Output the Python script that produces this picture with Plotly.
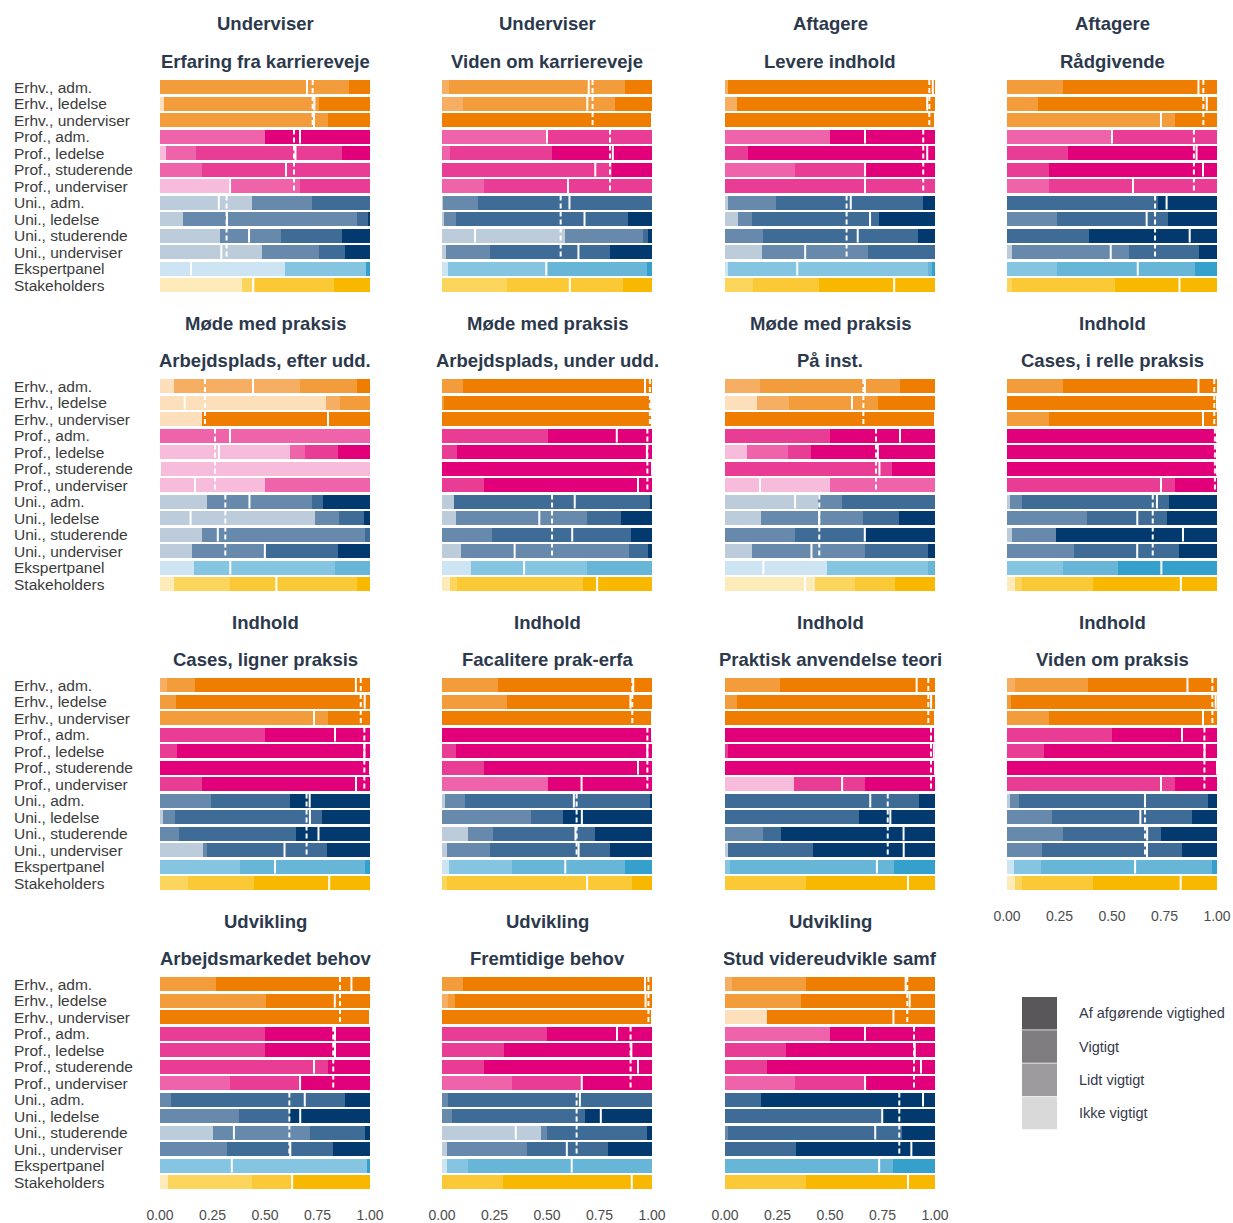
import plotly.graph_objects as go

# ---- categories -------------------------------------------------------------
groups = ["Erhv., adm.", "Erhv., ledelse", "Erhv., underviser",
          "Prof., adm.", "Prof., ledelse", "Prof., studerende", "Prof., underviser",
          "Uni., adm.", "Uni., ledelse", "Uni., studerende", "Uni., underviser",
          "Ekspertpanel", "Stakeholders"]
group_family = ["Erhv"] * 3 + ["Prof"] * 4 + ["Uni"] * 4 + ["Ekspert", "Stake"]
levels = ["Ikke vigtigt", "Lidt vigtigt", "Vigtigt", "Af afgørende vigtighed"]

themes = ["Underviser", "Underviser", "Aftagere", "Aftagere",
          "Møde med praksis", "Møde med praksis", "Møde med praksis", "Indhold",
          "Indhold", "Indhold", "Indhold", "Indhold",
          "Udvikling", "Udvikling", "Udvikling"]
items = ["Erfaring fra karriereveje", "Viden om karriereveje", "Levere indhold", "Rådgivende",
         "Arbejdsplads, efter udd.", "Arbejdsplads, under udd.", "På inst.", "Cases, i relle praksis",
         "Cases, ligner praksis", "Facalitere prak-erfa", "Praktisk anvendelse teori", "Viden om praksis",
         "Arbejdsmarkedet behov", "Fremtidige behov", "Stud videreudvikle samf"]

# ---- shares per group: [Ikke, Lidt, Vigtigt, Af afgørende] --------------------
erfaring_karriere = [
    [0, 0, 0.90, 0.10], [0.02, 0, 0.735, 0.245], [0, 0, 0.80, 0.20],
    [0, 0.50, 0, 0.50], [0.03, 0.14, 0.695, 0.135], [0, 0.20, 0.80, 0], [0.333, 0.333, 0.334, 0],
    [0.437, 0.286, 0.277, 0], [0.111, 0.829, 0.052, 0.008], [0.286, 0.29, 0.29, 0.134], [0.484, 0.275, 0.122, 0.119],
    [0.595, 0.386, 0, 0.019], [0.39, 0.06, 0.38, 0.17]]
viden_karriere = [
    [0, 0.033, 0.838, 0.129], [0, 0.10, 0.724, 0.176], [0, 0, 0, 1],
    [0, 0.50, 0.50, 0], [0, 0.038, 0.484, 0.478], [0, 0, 0.81, 0.19], [0, 0.20, 0.80, 0],
    [0.006, 0.167, 0.827, 0], [0.01, 0.057, 0.82, 0.113], [0.586, 0.373, 0.024, 0.017], [0.02, 0.21, 0.571, 0.199],
    [0.03, 0.476, 0.469, 0.025], [0, 0.311, 0.552, 0.137]]
levere_indhold = [
    [0, 0.016, 0, 0.984], [0, 0.056, 0, 0.944], [0, 0, 0, 1],
    [0, 0.5, 0, 0.5], [0, 0, 0.111, 0.889], [0, 0.333, 0.333, 0.334], [0, 0, 1, 0],
    [0.016, 0.227, 0.701, 0.056], [0.063, 0.067, 0.605, 0.265], [0, 0.183, 0.738, 0.079], [0.175, 0.505, 0.32, 0],
    [0.016, 0.952, 0.016, 0.016], [0, 0.135, 0.313, 0.552]]
raadgivende = [
    [0, 0, 0.265, 0.735], [0, 0, 0.146, 0.854], [0, 0, 0.80, 0.20],
    [0, 0.5, 0.5, 0], [0, 0, 0.292, 0.708], [0, 0, 0.20, 0.80], [0, 0.20, 0.80, 0],
    [0, 0, 0.72, 0.28], [0, 0.237, 0.531, 0.232], [0, 0, 0.39, 0.61], [0.022, 0.56, 0.332, 0.086],
    [0, 0.237, 0.658, 0.105], [0, 0.022, 0.492, 0.486]]
arbejdsplads_efter = [
    [0.067, 0.60, 0.27, 0.063], [0.79, 0.067, 0.143, 0], [0.20, 0, 0, 0.80],
    [0, 1, 0, 0], [0.619, 0.071, 0.159, 0.151], [1, 0, 0, 0], [0.5, 0.5, 0, 0],
    [0.222, 0.50, 0.056, 0.222], [0.738, 0.116, 0.117, 0.029], [0.198, 0.778, 0.024, 0], [0.151, 0.354, 0.341, 0.154],
    [0.163, 0.67, 0.167, 0], [0.067, 0.267, 0.603, 0.063]]
arbejdsplads_under = [
    [0, 0, 0.10, 0.90], [0, 0, 0.01, 0.99], [0, 0, 0, 1],
    [0, 0, 0.503, 0.497], [0, 0, 0.073, 0.927], [0, 0, 0, 1], [0, 0, 0.20, 0.80],
    [0.057, 0, 0.933, 0.01], [0.067, 0.625, 0.159, 0.149], [0, 0.24, 0.66, 0.10], [0.089, 0.803, 0.089, 0.019],
    [0.138, 0.551, 0.311, 0], [0.038, 0.035, 0.60, 0.327]]
paa_inst = [
    [0, 0.167, 0.667, 0.166], [0.151, 0.154, 0.425, 0.27], [0, 0, 0, 1],
    [0, 0, 0.5, 0.5], [0.106, 0.195, 0.108, 0.591], [0, 0, 0.794, 0.206], [0.5, 0.5, 0, 0],
    [0.444, 0.111, 0.445, 0], [0.17, 0.486, 0.173, 0.171], [0, 0.333, 0.337, 0.33], [0.13, 0.537, 0.301, 0.032],
    [0.484, 0.484, 0.032, 0], [0.429, 0.19, 0.19, 0.191]]
cases_relle = [
    [0, 0, 0.265, 0.735], [0, 0, 0, 1], [0, 0, 0.20, 0.80],
    [0, 0, 0, 1], [0, 0, 0, 1], [0, 0, 0, 1], [0, 0, 0.80, 0.20],
    [0.014, 0.059, 0.698, 0.229], [0, 0.379, 0.381, 0.24], [0.022, 0.21, 0, 0.768], [0, 0.32, 0.50, 0.18],
    [0, 0.265, 0.265, 0.47], [0.038, 0.032, 0.338, 0.592]]
cases_ligner = [
    [0, 0.035, 0.132, 0.833], [0, 0, 0.076, 0.924], [0, 0, 0.80, 0.20],
    [0, 0, 0.5, 0.5], [0, 0, 0.08, 0.92], [0, 0, 0, 1], [0, 0, 0.2, 0.8],
    [0, 0.243, 0.376, 0.381], [0.016, 0.056, 0.698, 0.23], [0, 0.09, 0.556, 0.354], [0.203, 0.022, 0.568, 0.207],
    [0, 0.381, 0.595, 0.024], [0, 0.135, 0.313, 0.552]]
facilitere = [
    [0, 0, 0.268, 0.732], [0, 0, 0.308, 0.692], [0, 0, 0, 1],
    [0, 0, 0, 1], [0, 0, 0.067, 0.933], [0, 0, 0.2, 0.8], [0, 0.503, 0, 0.497],
    [0.014, 0.095, 0.884, 0.007], [0, 0.424, 0.154, 0.422], [0.122, 0.119, 0.489, 0.27], [0.022, 0.206, 0.571, 0.201],
    [0.033, 0.302, 0.536, 0.129], [0, 0.022, 0.883, 0.095]]
anvendelse_teori = [
    [0, 0, 0.262, 0.738], [0, 0, 0.056, 0.944], [0, 0, 0, 1],
    [0, 0, 0, 1], [0, 0, 0.016, 0.984], [0, 0, 0, 1], [0.33, 0, 0.337, 0.333],
    [0, 0, 0.925, 0.075], [0, 0, 0.638, 0.362], [0, 0.183, 0.083, 0.734], [0.013, 0, 0.408, 0.579],
    [0, 0.024, 0.782, 0.194], [0, 0, 0.386, 0.614]]
viden_praksis = [
    [0, 0.038, 0.346, 0.616], [0, 0, 0.019, 0.981], [0, 0, 0.2, 0.8],
    [0, 0, 0.5, 0.5], [0, 0, 0.178, 0.822], [0, 0, 0, 1], [0, 0, 0.8, 0.2],
    [0.013, 0.044, 0.902, 0.041], [0, 0.216, 0.663, 0.121], [0, 0.265, 0.468, 0.267], [0, 0.165, 0.67, 0.165],
    [0.033, 0.129, 0.813, 0.025], [0.038, 0.035, 0.335, 0.592]]
arbejdsmarked = [
    [0, 0, 0.265, 0.735], [0, 0, 0.503, 0.497], [0, 0, 0, 1],
    [0, 0, 0.5, 0.5], [0, 0, 0.5, 0.5], [0, 0, 0.8, 0.2], [0, 0.333, 0.333, 0.334],
    [0, 0.051, 0.83, 0.119], [0, 0.378, 0.241, 0.381], [0.254, 0.46, 0.262, 0.024], [0, 0.317, 0.505, 0.178],
    [0, 0.987, 0, 0.013], [0.04, 0.397, 0.198, 0.365]]
fremtidige = [
    [0, 0, 0.10, 0.90], [0, 0.03, 0.032, 0.938], [0, 0, 0, 1],
    [0, 0, 0.5, 0.5], [0, 0, 0.295, 0.705], [0, 0, 0.2, 0.8], [0, 0.335, 0.333, 0.332],
    [0, 0.03, 0.97, 0], [0, 0.049, 0.633, 0.318], [0.471, 0.03, 0.473, 0.026], [0.025, 0.378, 0.386, 0.211],
    [0.025, 0.097, 0.878, 0], [0, 0, 0.289, 0.711]]
videreudvikle = [
    [0, 0.035, 0.349, 0.616], [0, 0, 0.362, 0.638], [0.198, 0, 0, 0.802],
    [0, 0.5, 0, 0.5], [0, 0, 0.289, 0.711], [0, 0, 0.2, 0.8], [0, 0.333, 0.333, 0.334],
    [0, 0, 0.171, 0.829], [0, 0, 0.754, 0.246], [0, 0.013, 0.828, 0.159], [0, 0, 0.338, 0.662],
    [0, 0, 0.798, 0.202], [0, 0, 0.386, 0.614]]

# ---- weighted family averages (Erhv, Prof, Uni) on the 0-1 scale --------------
erfaring_karriere_avg = [0.727, 0.638, 0.317]
viden_karriere_avg = [0.717, 0.80, 0.565]
levere_indhold_avg = [0.973, 0.944, 0.579]
raadgivende_avg = [0.935, 0.89, 0.705]
arbejdsplads_efter_avg = [0.214, 0.262, 0.311]
arbejdsplads_under_avg = [0.99, 0.978, 0.524]
paa_inst_avg = [0.659, 0.719, 0.449]
cases_relle_avg = [0.987, 0.99, 0.694]
cases_ligner_avg = [0.956, 0.973, 0.698]
facilitere_avg = [0.906, 0.978, 0.641]
anvendelse_teori_avg = [0.968, 0.981, 0.775]
viden_praksis_avg = [0.978, 0.94, 0.657]
arbejdsmarked_avg = [0.857, 0.825, 0.616]
fremtidige_avg = [0.983, 0.898, 0.641]
videreudvikle_avg = [0.868, 0.90, 0.83]

panel_shares = [erfaring_karriere, viden_karriere, levere_indhold, raadgivende,
                arbejdsplads_efter, arbejdsplads_under, paa_inst, cases_relle,
                cases_ligner, facilitere, anvendelse_teori, viden_praksis,
                arbejdsmarked, fremtidige, videreudvikle]
panel_avgs = [erfaring_karriere_avg, viden_karriere_avg, levere_indhold_avg, raadgivende_avg,
              arbejdsplads_efter_avg, arbejdsplads_under_avg, paa_inst_avg, cases_relle_avg,
              cases_ligner_avg, facilitere_avg, anvendelse_teori_avg, viden_praksis_avg,
              arbejdsmarked_avg, fremtidige_avg, videreudvikle_avg]

# ---- styling ------------------------------------------------------------------
palettes = {
    "Erhv":    ["#fddfbb", "#f5ae62", "#f29c3c", "#ee7d00"],
    "Prof":    ["#f7bcdb", "#ee63a9", "#e93d95", "#e2007a"],
    "Uni":     ["#bdccdb", "#6789ac", "#3f6b97", "#023a70"],
    "Ekspert": ["#cde5f3", "#86c5e1", "#67b6d7", "#36a0cd"],
    "Stake":   ["#fdebb9", "#fbd55c", "#fbc935", "#f9b800"],
}
legend_greys = ["#d9d9d9", "#9d9b9d", "#7f7d7f", "#5a575a"]
family_rows = {"Erhv": (0, 2), "Prof": (3, 6), "Uni": (7, 10)}

W, H = 1233, 1223
col_left = [160, 442, 725, 1007]
col_width = 210
row_top = [80, 379, 678, 977]
pitch = 16.5
bar_w = 0.85
font_main = "Liberation Sans, Arial, sans-serif"
title_color = "#2c394c"
label_color = "#3b3b3b"

fig = go.Figure()
layout_axes = {}
annotations = []
shapes = []

for p, shares in enumerate(panel_shares):
    r, c = divmod(p, 4)
    k = p + 1
    xa = "x" if k == 1 else f"x{k}"
    ya = "y" if k == 1 else f"y{k}"

    top = row_top[r] - (1 - bar_w) * pitch / 2
    bottom = top + 13 * pitch
    layout_axes[f"xaxis{'' if k == 1 else k}"] = dict(
        domain=[col_left[c] / W, (col_left[c] + col_width) / W],
        range=[0, 1], anchor=ya, showgrid=False, zeroline=False, showline=False,
        tickvals=[0, 0.25, 0.5, 0.75, 1.0], ticktext=["0.00", "0.25", "0.50", "0.75", "1.00"],
        showticklabels=(p >= 11), ticks="outside", ticklen=12, tickcolor="rgba(0,0,0,0)",
        tickfont=dict(family=font_main, size=14, color="#4d4d4d"), fixedrange=True, automargin=False)
    layout_axes[f"yaxis{'' if k == 1 else k}"] = dict(
        domain=[1 - bottom / H, 1 - top / H], range=[12.5, -0.5], anchor=xa,
        showgrid=False, zeroline=False, showline=False, showticklabels=False, fixedrange=True,
        automargin=False)

    norm = [[v / sum(row) for v in row] for row in shares]
    for li, lev in enumerate(levels):
        fig.add_trace(go.Bar(
            x=[row[li] for row in norm], y=list(range(len(groups))), orientation="h",
            width=bar_w, xaxis=xa, yaxis=ya, name=lev, showlegend=False,
            marker=dict(color=[palettes[f][li] for f in group_family], line=dict(width=0)),
            customdata=groups, hovertemplate="%{customdata}<br>" + lev + ": %{x:.2f}<extra></extra>"))

    # each group's mean score rescaled to 0-1
    sx, sy = [], []
    for i, row in enumerate(norm):
        score = (sum((j + 1) * v for j, v in enumerate(row)) - 1) / 3
        sx += [score, score, None]
        sy += [i - bar_w / 2, i + bar_w / 2, None]
    fig.add_trace(go.Scatter(x=sx, y=sy, mode="lines", xaxis=xa, yaxis=ya, showlegend=False,
                             line=dict(color="white", width=2), hoverinfo="skip"))

    # weighted average per family, dashed
    dx, dy = [], []
    for fam, avg in zip(["Erhv", "Prof", "Uni"], panel_avgs[p]):
        a, b = family_rows[fam]
        dx += [avg, avg, None]
        dy += [a - bar_w / 2, b + bar_w / 2, None]
    fig.add_trace(go.Scatter(x=dx, y=dy, mode="lines", xaxis=xa, yaxis=ya, showlegend=False,
                             line=dict(color="white", width=2, dash="5px,3px"), hoverinfo="skip"))

    # two-line panel header
    cx = (col_left[c] + col_width / 2) / W
    annotations.append(dict(text=f"<b>{themes[p]}</b>", x=cx, y=1 - (row_top[r] - 56) / H,
                            xref="paper", yref="paper", showarrow=False, xanchor="center", yanchor="middle",
                            font=dict(family=font_main, size=18.5, color=title_color)))
    annotations.append(dict(text=f"<b>{items[p]}</b>", x=cx, y=1 - (row_top[r] - 19) / H,
                            xref="paper", yref="paper", showarrow=False, xanchor="center", yanchor="middle",
                            font=dict(family=font_main, size=18.5, color=title_color)))

    # group labels at the left of every panel row
    if c == 0:
        for i, g in enumerate(groups):
            annotations.append(dict(text=g, x=12 / W, y=i, xref="paper", yref=ya, showarrow=False,
                                    xanchor="left", yanchor="middle",
                                    font=dict(family=font_main, size=15.5, color=label_color)))

# ---- legend -------------------------------------------------------------------
leg_top = 997
leg_h = 32.6
for n, (lev, col) in enumerate(zip(reversed(levels), reversed(legend_greys))):
    y0 = leg_top + n * (leg_h + 0.6)
    shapes.append(dict(type="rect", xref="paper", yref="paper",
                       x0=1022 / W, x1=1057 / W, y0=1 - (y0 + leg_h) / H, y1=1 - y0 / H,
                       fillcolor=col, line=dict(width=0)))
    annotations.append(dict(text=lev, x=1077 / W, y=1 - (y0 + leg_h / 2) / H, xref="paper", yref="paper",
                            showarrow=False, xanchor="left", yanchor="middle",
                            font=dict(family=font_main, size=14.5, color="#35394a")))

fig.update_layout(width=W, height=H, autosize=False,
                  margin=dict(l=0, r=0, t=0, b=0, pad=0, autoexpand=False),
                  plot_bgcolor="white", paper_bgcolor="white", barmode="stack",
                  annotations=annotations, shapes=shapes, showlegend=False, **layout_axes)

fig.write_html("out.html")
